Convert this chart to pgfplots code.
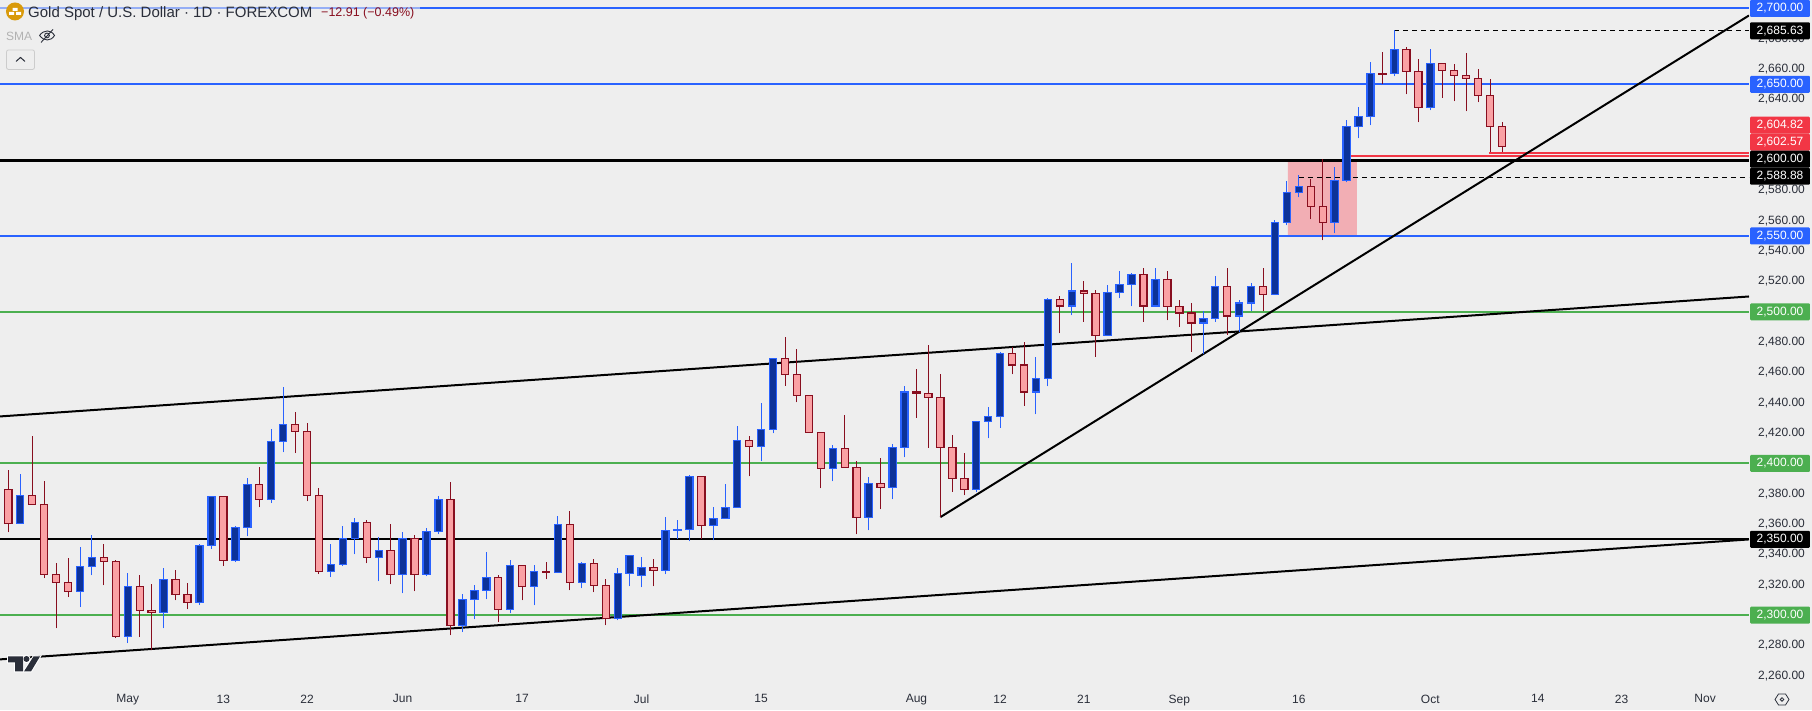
\documentclass[border=0pt]{standalone}
\usepackage{fontspec}
\setmainfont{Liberation Sans}
\usepackage{pgfplots}
\usepackage{pgfplotstable}
\pgfplotsset{compat=1.18}

\definecolor{bg}{HTML}{EEEEEE}
\definecolor{tvblue}{HTML}{2962FF}
\definecolor{tvgreen}{HTML}{4CAF50}
\definecolor{tvred}{HTML}{F23645}
\definecolor{wick}{HTML}{880E1F}
\definecolor{redbody}{HTML}{FAA1A4}
\definecolor{bluebody}{HTML}{0C3299}
\definecolor{zone}{HTML}{F2AEB4}
\definecolor{ink}{HTML}{2A2E39}
\definecolor{gold}{HTML}{D99A0B}

% daily candles, row number = trading day
\pgfplotstableread{
high top bot low
2395.4 2382.6 2360.2 2354.5
2392.8 2378.7 2360.2 2360.2
2417.8 2378.7 2372.8 2372.8
2388.2 2372.8 2326.6 2324.4
2334.1 2326.6 2321.3 2291.2
2337.4 2321.3 2315.4 2311.9
2344.6 2331.9 2315.4 2305.3
2352.5 2337.8 2331.9 2326.2
2346.6 2337.8 2335.2 2319.6
2336.1 2335.2 2285.7 2284.9
2328.0 2318.7 2285.7 2281.6
2326.2 2318.7 2302.9 2285.5
2320.2 2302.9 2301.6 2276.7
2331.2 2323.3 2301.6 2291.2
2329.5 2323.3 2313.4 2309.7
2320.9 2313.4 2308.2 2303.8
2347.1 2345.7 2308.2 2306.6
2378.0 2378.0 2345.7 2343.5
2378.0 2378.0 2335.8 2332.3
2358.9 2357.6 2335.8 2335.0
2390.1 2386.0 2357.6 2351.9
2397.4 2386.0 2376.1 2371.0
2422.4 2414.3 2376.1 2373.9
2450.1 2425.5 2414.3 2407.3
2433.6 2425.5 2420.9 2406.8
2426.4 2420.9 2378.7 2375.0
2383.5 2378.7 2328.6 2327.0
2347.1 2333.2 2328.6 2325.1
2358.5 2350.3 2333.2 2332.3
2363.8 2360.9 2350.3 2340.0
2362.4 2360.9 2337.8 2334.1
2351.2 2342.4 2337.8 2322.2
2359.8 2342.4 2326.6 2320.2
2354.5 2350.3 2326.6 2314.3
2352.5 2350.3 2326.6 2315.6
2357.2 2355.0 2326.6 2325.7
2378.3 2376.1 2355.0 2353.4
2387.5 2376.1 2293.0 2286.6
2313.7 2310.1 2293.0 2288.8
2319.6 2316.1 2310.1 2297.2
2341.3 2324.6 2316.1 2310.4
2326.2 2324.6 2303.5 2295.2
2336.1 2332.5 2303.5 2301.1
2332.5 2332.5 2318.7 2309.7
2332.8 2328.6 2318.7 2306.4
2334.7 2328.6 2327.9 2323.5
2365.1 2359.6 2327.9 2327.9
2368.4 2359.6 2321.3 2316.3
2334.7 2333.9 2321.3 2317.6
2336.7 2333.9 2319.4 2315.0
2323.5 2319.4 2297.6 2293.2
2330.8 2327.3 2297.6 2296.5
2339.1 2339.1 2327.3 2318.9
2338.0 2331.2 2326.0 2318.3
2336.7 2331.2 2329.3 2318.9
2364.4 2355.6 2329.3 2326.8
2362.4 2356.3 2355.6 2350.4
2392.5 2391.2 2356.3 2348.6
2391.2 2391.2 2358.9 2350.4
2371.0 2363.5 2358.9 2349.3
2386.2 2370.8 2363.5 2363.5
2424.4 2415.0 2370.8 2370.8
2417.8 2415.0 2411.0 2391.4
2439.6 2422.2 2411.0 2401.3
2469.7 2469.0 2422.2 2419.8
2483.7 2469.0 2458.5 2451.4
2475.2 2458.5 2444.6 2440.2
2445.3 2444.6 2420.2 2420.2
2420.2 2420.2 2396.5 2383.5
2411.9 2409.7 2396.5 2388.1
2431.7 2409.7 2397.2 2397.2
2401.3 2397.2 2364.2 2353.2
2390.8 2386.6 2364.2 2355.8
2403.3 2386.6 2384.0 2369.7
2412.5 2410.3 2384.0 2376.3
2450.8 2447.2 2410.3 2404.0
2462.0 2447.2 2445.9 2430.3
2477.8 2445.9 2443.3 2410.5
2458.7 2443.3 2410.3 2364.6
2418.5 2410.3 2389.9 2381.5
2406.6 2389.9 2382.6 2378.9
2427.5 2427.5 2382.6 2380.9
2436.9 2430.8 2427.5 2416.5
2473.2 2472.3 2430.8 2423.7
2477.1 2472.3 2465.0 2458.7
2479.8 2465.0 2447.2 2438.2
2469.9 2455.8 2447.2 2432.3
2509.4 2507.9 2455.8 2450.8
2510.1 2507.9 2503.9 2485.7
2531.9 2513.8 2503.9 2497.6
2520.0 2513.8 2511.9 2493.6
2514.7 2511.9 2484.2 2470.5
2518.0 2512.5 2484.2 2484.2
2526.6 2517.8 2512.5 2508.8
2525.9 2524.4 2517.8 2503.5
2529.2 2524.4 2503.9 2493.6
2528.6 2521.1 2503.9 2503.9
2526.6 2521.1 2503.3 2494.3
2507.5 2503.3 2499.3 2490.3
2506.1 2499.3 2492.7 2473.8
2500.2 2495.4 2492.7 2471.9
2523.3 2516.5 2495.4 2493.6
2529.2 2516.5 2497.3 2485.0
2507.5 2505.9 2497.3 2486.8
2518.7 2516.5 2505.9 2500.4
2529.2 2516.5 2511.2 2500.6
2560.3 2558.7 2511.2 2511.2
2586.0 2578.5 2558.7 2557.0
2589.9 2582.5 2578.5 2575.4
2587.3 2582.5 2569.3 2560.9
2600.5 2569.3 2558.7 2547.1
2595.2 2586.4 2558.7 2551.7
2626.2 2622.0 2586.4 2585.3
2634.8 2628.6 2622.0 2614.3
2664.4 2657.0 2628.6 2622.9
2671.0 2657.0 2656.7 2649.9
2685.6 2672.8 2657.0 2655.2
2674.3 2672.8 2658.3 2643.3
2666.4 2658.3 2634.5 2624.9
2673.0 2663.5 2634.5 2632.8
2663.5 2663.5 2658.9 2641.3
2663.1 2658.9 2655.6 2638.7
2670.4 2655.6 2653.7 2632.1
2659.8 2653.7 2642.4 2638.1
2653.2 2642.4 2622.0 2605.1
2624.9 2622.0 2608.8 2605.1
}\candles

% one candle: row of the table, border colour, body colour
\newcommand\candle[3]{%
  \pgfplotstablegetelem{#1}{high}\of\candles\let\ch\pgfplotsretval
  \pgfplotstablegetelem{#1}{top}\of\candles\let\ct\pgfplotsretval
  \pgfplotstablegetelem{#1}{bot}\of\candles\let\cb\pgfplotsretval
  \pgfplotstablegetelem{#1}{low}\of\candles\let\cl\pgfplotsretval
  \pgfmathsetmacro\xl{#1-0.3}%
  \pgfmathsetmacro\xr{#1+0.3}%
  \edef\temp{%
    \noexpand\addplot[mark=none,#2,line width=1pt] coordinates {(#1,\cl)(#1,\ch)};
    \noexpand\addplot[mark=none,draw=#2,fill=#3,line width=1.3pt,line cap=rect]
      coordinates {(\xl,\cb)(\xr,\cb)(\xr,\ct)(\xl,\ct)(\xl,\cb)};
  }%
  \temp
}

\pgfplotsset{
  level/.style={mark=none,line width=2pt},
  trend/.style={mark=none,black,line width=2pt},
}
\tikzset{
  price tag/.style={anchor=west,xshift=1pt,minimum width=59.7pt,minimum height=17pt,inner sep=0pt,
    rounded corners=1pt,text=white,font=\fontsize{12}{12}\selectfont},
}

\begin{document}
\begin{tikzpicture}[x=1pt,y=1pt]
\fill[bg] (0,0) rectangle (1812,710);
\begin{axis}[
  at={(0pt,710pt)},anchor=north west,
  scale only axis,width=1749pt,height=680pt,
  xmin=-0.695,xmax=145.67,
  ymin=2256.9,ymax=2705.3,
  axis y line*=right,axis x line*=bottom,
  axis line style={draw=none},
  tick style={draw=none},
  major tick length=0pt,
  clip mode=individual,
  ytick={2260,2280,2320,2340,2360,2380,2420,2440,2460,2480,2520,2540,2560,2580,2640,2660,2680},
  xtick={10,18,25,33,43,53,63,76,83,90,98,108,119,128,135,142},
  xticklabels={May,13,22,Jun,17,Jul,15,Aug,12,21,Sep,16,Oct,14,23,Nov},
  yticklabel style={anchor=west,inner sep=0pt,xshift=9pt,
    /pgf/number format/.cd,fixed,fixed zerofill,precision=2,1000 sep={,},assume math mode=true},
  xticklabel style={inner sep=0pt,yshift=-14pt},
  tick label style={font=\fontsize{12}{12}\selectfont,text=ink},
]
% zone between 2550 and 2600
\addplot[fill=zone,draw=none,mark=none] coordinates {(107.09,2550)(112.86,2550)(112.86,2600)(107.09,2600)(107.09,2550)};

% levels
\addplot[level,tvblue] coordinates {(-0.695,2700)(145.67,2700)};
\addplot[level,tvblue] coordinates {(-0.695,2650)(145.67,2650)};
\addplot[level,tvblue] coordinates {(-0.695,2550)(145.67,2550)};
\addplot[level,tvgreen] coordinates {(-0.695,2500)(145.67,2500)};
\addplot[level,tvgreen] coordinates {(-0.695,2400)(145.67,2400)};
\addplot[level,tvgreen] coordinates {(-0.695,2300)(145.67,2300)};
\addplot[mark=none,black,line width=3pt] coordinates {(-0.695,2600)(145.67,2600)};
\addplot[mark=none,black,line width=2pt] coordinates {(-0.695,2350)(145.67,2350)};
\addplot[level,tvred] coordinates {(123.9,2604.82)(145.67,2604.82)};
\addplot[level,tvred] coordinates {(112.4,2602.57)(145.67,2602.57)};
\addplot[mark=none,black,line width=1pt,dash pattern=on 5pt off 4pt] coordinates {(116,2685.63)(145.67,2685.63)};
\addplot[mark=none,black,line width=1pt,dash pattern=on 5pt off 4pt] coordinates {(108,2588.88)(145.67,2588.88)};

% trend lines
\addplot[trend] coordinates {(-0.695,2431.0)(145.67,2510.1)};
\addplot[trend] coordinates {(-0.695,2270.8)(145.67,2349.9)};
\addplot[trend] coordinates {(78,2364.6)(145.67,2695.4)};

% candles
\pgfplotsinvokeforeach{0,2,3,4,5,8,9,11,12,14,15,18,21,24,25,26,30,32,34,37,41,43,45,47,49,50,54,58,62,65,66,67,68,70,71,73,76,77,78,79,80,84,85,88,90,91,95,97,98,99,102,105,109,110,115,117,118,120,121,122,123,124,125}{
  \candle{#1}{wick}{redbody}
}
\pgfplotsinvokeforeach{1,6,7,10,13,16,17,19,20,22,23,27,28,29,31,33,35,36,38,39,40,42,44,46,48,51,52,53,55,56,57,59,60,61,63,64,69,72,74,75,81,82,83,86,87,89,92,93,94,96,100,101,103,104,106,107,108,111,112,113,114,116,119}{
  \candle{#1}{tvblue}{bluebody}
}

% price tags
\node[price tag,fill=tvblue] at (axis cs:145.67,2700) {2,700.00};
\node[price tag,fill=black] at (axis cs:145.67,2685.3) {2,685.63};
\node[price tag,fill=tvblue] at (axis cs:145.67,2650) {2,650.00};
\node[price tag,fill=tvred] at (axis cs:145.67,2623.05) {2,604.82};
\node[price tag,fill=tvred] at (axis cs:145.67,2611.85) {2,602.57};
\node[price tag,fill=black] at (axis cs:145.67,2600.6) {2,600.00};
\node[price tag,fill=black] at (axis cs:145.67,2589.4) {2,588.88};
\node[price tag,fill=tvblue] at (axis cs:145.67,2550) {2,550.00};
\node[price tag,fill=tvgreen] at (axis cs:145.67,2500) {2,500.00};
\node[price tag,fill=tvgreen] at (axis cs:145.67,2400) {2,400.00};
\node[price tag,fill=black] at (axis cs:145.67,2350) {2,350.00};
\node[price tag,fill=tvgreen] at (axis cs:145.67,2300) {2,300.00};
\end{axis}

% chart header and logo, in screen pixels from the top left
\begin{scope}[shift={(0,710)},y=-1pt]
  \fill[bg,opacity=.55] (0,2) rectangle (420,21);
  \fill[gold] (15,11) circle (9);
  \fill[white] (12.5,7.5) rectangle (17.5,10.5) (9,11.5) rectangle (14,14.5) (16,11.5) rectangle (21,14.5);
  \node[anchor=base west,inner sep=0pt,text=ink,font=\fontsize{15}{15}\selectfont] at (28,17) {Gold Spot / U.S. Dollar · 1D · FOREXCOM};
  \node[anchor=base west,inner sep=0pt,text=wick,font=\fontsize{12.5}{12.5}\selectfont] at (321,16.5) {−12.91 (−0.49\%)};
  \node[anchor=base west,inner sep=0pt,text=black!30,font=\fontsize{12}{12}\selectfont] at (6,40) {SMA};
  \draw[ink,line width=.9pt] (39.5,35) .. controls (44,29) and (51,29) .. (54.5,35) .. controls (51,41) and (44,41) .. (39.5,35);
  \draw[ink,line width=.9pt] (47,35) circle (2.4) (41,42) -- (53,29);
  \draw[black!20,line width=.8pt,rounded corners=2pt] (6.5,49.5) rectangle (34.5,69);
  \draw[ink,line width=1pt] (16,61) -- (20.5,57) -- (25,61);
  % logo
  \filldraw[white,line width=2pt] (8,656) -- (23,656) -- (23,671) -- (15,671) -- (15,662) -- (8,662) -- cycle
    (33.5,656) -- (40,656) -- (31,671) -- (24,671) -- cycle (26.5,658.5) circle (3);
  \fill[ink] (8,656) -- (23,656) -- (23,671) -- (15,671) -- (15,662) -- (8,662) -- cycle;
  \fill[ink] (26.5,658.5) circle (3);
  \fill[ink] (33.5,656) -- (40,656) -- (31,671) -- (24,671) -- cycle;
  % settings button
  \draw[ink,line width=.8pt] (1775,699) -- (1778.5,693.5) -- (1785.5,693.5) -- (1789,699) -- (1785.5,704.5) -- (1778.5,704.5) -- cycle;
  \draw[ink,line width=.8pt] (1782,699) circle (1.8);
\end{scope}
\end{tikzpicture}
\end{document}
